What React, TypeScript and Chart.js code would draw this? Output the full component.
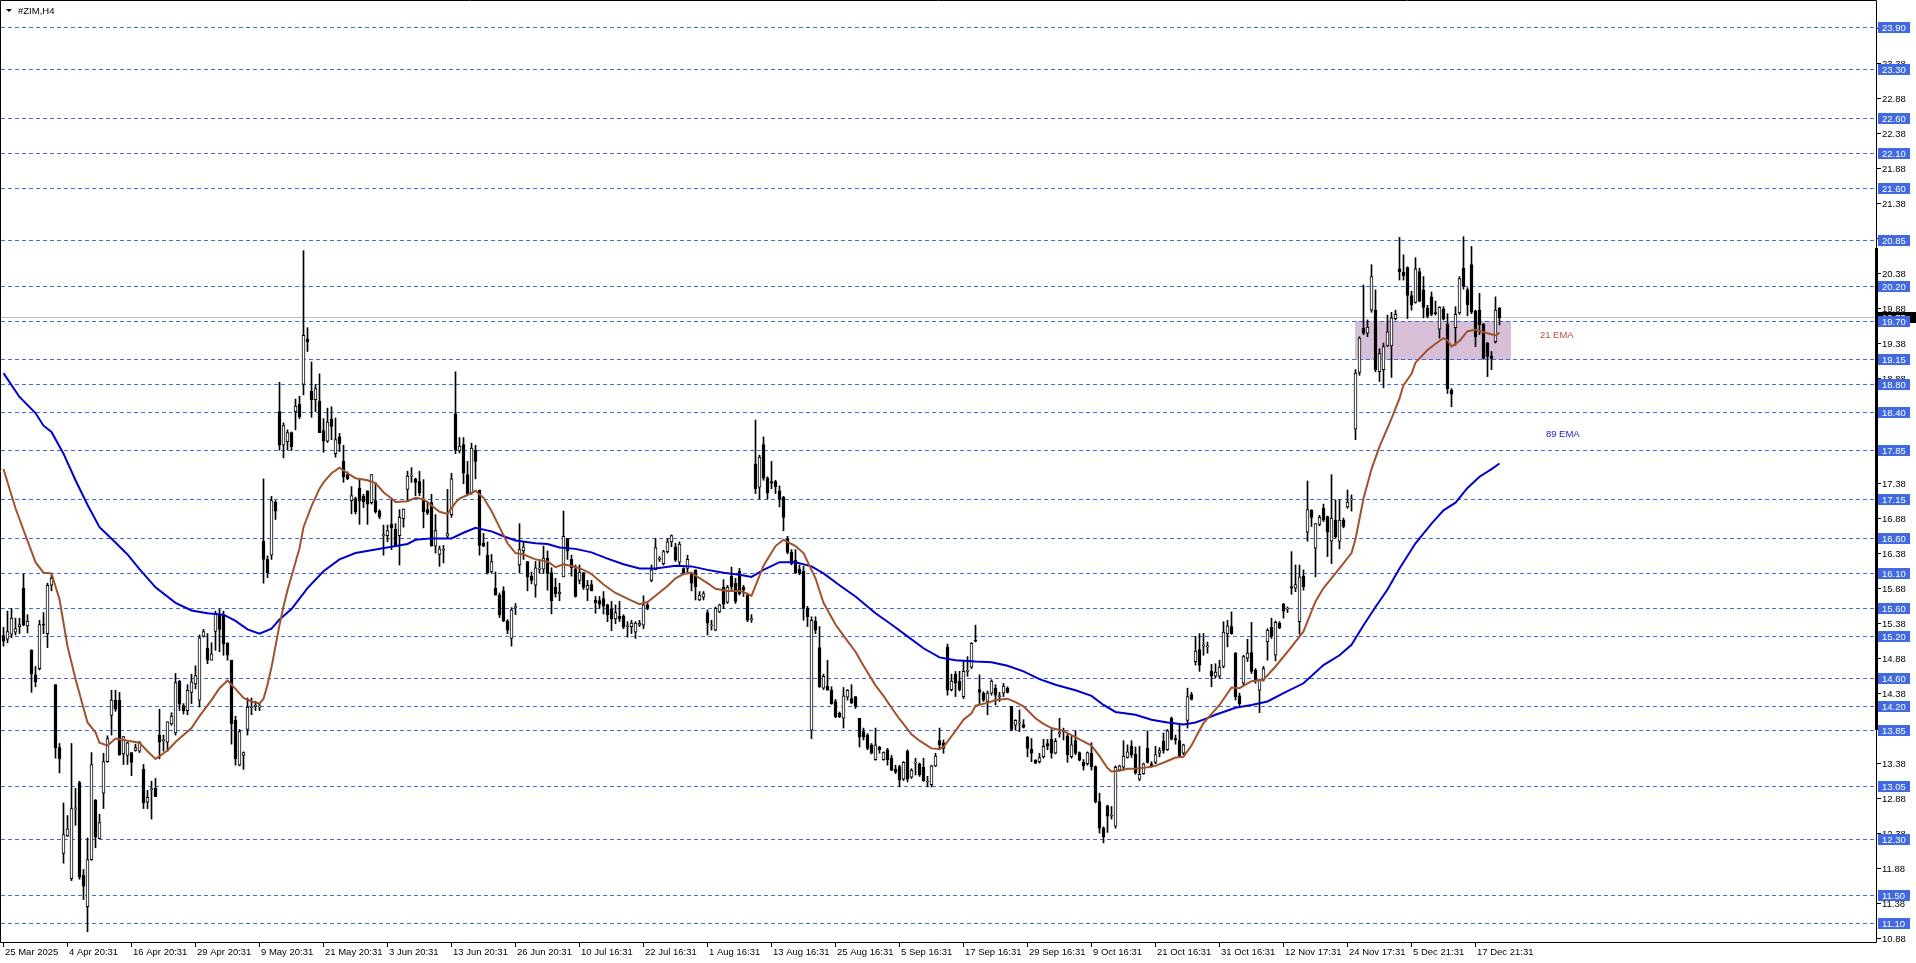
import React, { useEffect, useRef } from "react";
import { Chart, registerables } from "chart.js";

Chart.register(...registerables);

// ---------- DATA (H4 bars, index 0 = 25 Mar 2025) ----------
const opens = [
  15.20, 15.15, 15.22, 15.25, 15.33, 15.88, 15.34, 14.99, 14.64, 14.73,
  15.36, 15.23, 15.92, 14.50, 13.60, 12.09, 12.34, 11.73, 12.72, 13.10,
  11.78, 11.33, 12.00, 12.85, 12.30, 12.95, 13.40, 14.06, 14.28, 14.28,
  13.51, 13.49, 13.53, 13.56, 13.55, 13.29, 12.82, 13.00, 13.02, 13.78,
  13.70, 13.68, 13.94, 13.81, 14.55, 14.20, 14.13, 14.39, 14.51, 14.28,
  15.19, 15.02, 14.85, 15.26, 15.50, 15.50, 15.09, 14.85, 13.99, 13.35,
  13.49, 13.86, 14.17, 14.19, 14.18, 16.55, 16.29, 16.35, 17.11, 18.40,
  17.92, 17.97, 18.10, 18.40, 18.51, 18.79, 19.44, 18.69, 18.57, 18.55,
  18.13, 17.98, 18.29, 17.80, 18.04, 17.69, 17.50, 17.13, 17.16, 17.31,
  17.19, 17.27, 17.10, 17.13, 16.98, 16.63, 16.63, 16.79, 16.72, 16.63,
  16.87, 17.29, 17.48, 17.44, 17.40, 17.13, 17.00, 17.10, 16.48, 16.36,
  16.42, 16.62, 16.93, 18.37, 17.84, 17.93, 17.50, 17.24, 17.85, 17.28,
  16.52, 16.35, 16.11, 15.88, 15.78, 15.84, 15.41, 15.16, 15.60, 16.21,
  16.41, 16.26, 16.05, 15.92, 16.15, 16.15, 16.31, 16.10, 15.89, 15.80,
  16.04, 16.59, 16.29, 16.15, 15.99, 16.10, 15.86, 15.93, 15.71, 15.70,
  15.73, 15.64, 15.58, 15.44, 15.48, 15.48, 15.33, 15.33, 15.25, 15.35,
  15.35, 15.64, 15.99, 16.14, 16.29, 16.23, 16.40, 16.54, 16.47, 16.25,
  16.16, 16.16, 16.09, 16.14, 15.71, 15.75, 15.53, 15.34, 15.28, 15.54,
  15.89, 15.68, 16.05, 15.95, 16.12, 15.89, 15.78, 15.43, 17.65, 17.32,
  17.93, 17.45, 17.40, 17.40, 17.27, 17.18, 16.58, 16.39, 16.28, 16.15,
  16.12, 15.59, 13.85, 15.41, 15.03, 14.45, 14.48, 14.42, 14.26, 14.09,
  14.02, 14.32, 14.30, 14.33, 14.02, 13.83, 13.78, 13.64, 13.43, 13.61,
  13.43, 13.57, 13.45, 13.29, 13.33, 13.15, 13.55, 13.18, 13.38, 13.37,
  13.32, 13.11, 13.07, 13.34, 13.70, 13.67, 15.04, 14.43, 14.65, 14.55,
  14.33, 14.69, 14.75, 15.13, 14.43, 14.38, 14.26, 14.38, 14.45, 14.33,
  14.38, 14.45, 14.19, 13.92, 13.95, 13.93, 13.75, 13.58, 13.42, 13.40,
  13.47, 13.66, 13.72, 13.52, 13.80, 13.83, 13.77, 13.47, 13.70, 13.53,
  13.39, 13.37, 13.52, 13.33, 12.83, 12.45, 12.77, 12.62, 12.48, 13.28,
  13.32, 13.46, 13.62, 13.51, 13.15, 13.23, 13.59, 13.37, 13.39, 13.52,
  13.69, 13.57, 14.02, 13.73, 13.70, 13.52, 13.99, 14.36, 14.83, 15.00,
  15.05, 15.04, 14.69, 14.62, 14.62, 14.76, 15.23, 15.33, 14.95, 14.34,
  14.52, 14.88, 14.96, 14.71, 14.42, 14.57, 15.11, 15.32, 14.92, 15.38,
  15.65, 15.58, 15.90, 15.88, 15.40, 16.05, 16.68, 16.99, 16.45, 16.79,
  17.02, 16.90, 16.55, 16.85, 16.55, 16.85, 17.04, 17.14, 18.15, 18.96,
  19.59, 19.52, 19.85, 19.85, 18.97, 19.00, 19.34, 19.34, 19.73, 20.44,
  20.39, 20.46, 20.06, 19.96, 20.40, 20.14, 19.88, 20.04, 19.81, 19.58,
  19.87, 19.65, 18.71, 19.60, 19.81, 20.45, 20.14, 20.50, 19.84, 19.85,
  19.65, 19.38, 19.19, 19.40, 19.88,
];

const highs = [
  15.32, 15.55, 15.59, 15.45, 15.45, 16.08, 15.50, 15.00, 14.76, 15.42,
  15.53, 15.95, 16.09, 14.50, 13.66, 12.81, 12.63, 13.66, 13.02, 13.12,
  11.86, 12.31, 13.53, 12.86, 12.65, 13.52, 13.77, 14.42, 14.42, 14.39,
  13.76, 13.68, 13.53, 13.65, 13.69, 13.36, 12.99, 13.12, 13.16, 14.15,
  13.78, 13.97, 14.10, 14.66, 14.56, 14.23, 14.50, 14.65, 14.77, 15.21,
  15.29, 15.23, 15.10, 15.55, 15.58, 15.55, 15.10, 14.85, 14.05, 13.86,
  13.54, 14.31, 14.31, 14.26, 14.23, 17.44, 16.34, 17.19, 17.13, 18.82,
  18.24, 18.14, 18.11, 18.58, 18.62, 20.70, 19.60, 19.11, 18.79, 18.94,
  18.30, 18.45, 18.47, 18.31, 18.09, 17.92, 17.54, 17.33, 17.18, 17.43,
  17.22, 17.27, 17.50, 17.39, 17.00, 16.78, 16.78, 17.16, 16.80, 17.00,
  17.01, 17.55, 17.60, 17.45, 17.55, 17.43, 17.12, 17.22, 16.93, 16.48,
  16.49, 17.29, 17.52, 18.97, 18.03, 18.03, 17.69, 17.95, 17.92, 17.28,
  16.66, 16.54, 16.36, 16.11, 15.81, 15.90, 15.43, 15.60, 15.66, 16.80,
  16.54, 16.26, 16.11, 16.26, 16.26, 16.48, 16.41, 16.17, 16.02, 15.95,
  16.98, 16.59, 16.35, 16.21, 16.21, 16.10, 15.99, 15.99, 15.76, 15.76,
  15.83, 15.65, 15.69, 15.64, 15.69, 15.50, 15.40, 15.42, 15.40, 15.42,
  15.77, 15.66, 16.21, 16.59, 16.33, 16.42, 16.59, 16.64, 16.52, 16.54,
  16.17, 16.35, 16.10, 16.14, 15.83, 15.83, 15.57, 15.42, 15.61, 15.65,
  16.00, 15.92, 16.18, 16.02, 16.16, 15.92, 15.80, 15.50, 18.28, 17.78,
  18.04, 17.47, 17.69, 17.42, 17.34, 17.19, 16.62, 16.43, 16.43, 16.21,
  16.19, 15.62, 15.47, 15.47, 15.33, 14.65, 14.85, 14.47, 14.29, 14.11,
  14.46, 14.43, 14.50, 14.33, 14.02, 13.88, 13.80, 13.66, 13.88, 13.62,
  13.54, 13.59, 13.49, 13.35, 13.35, 13.40, 13.57, 13.30, 13.45, 13.38,
  13.45, 13.19, 13.35, 13.52, 13.88, 13.71, 15.08, 14.65, 14.69, 14.69,
  14.83, 14.90, 15.10, 15.35, 14.64, 14.40, 14.41, 14.57, 14.50, 14.39,
  14.52, 14.47, 14.19, 14.00, 14.14, 14.00, 13.76, 13.73, 13.43, 13.52,
  13.72, 13.72, 13.86, 13.73, 14.02, 13.88, 13.80, 13.76, 13.84, 13.54,
  13.43, 13.54, 13.67, 13.34, 12.95, 12.47, 12.78, 12.76, 13.34, 13.35,
  13.70, 13.64, 13.70, 13.61, 13.62, 13.38, 13.84, 13.40, 13.62, 13.60,
  13.81, 13.86, 14.04, 13.78, 13.92, 13.65, 14.45, 14.39, 15.19, 15.23,
  15.23, 15.11, 14.79, 14.80, 14.85, 15.40, 15.42, 15.54, 14.96, 14.38,
  14.92, 15.15, 15.39, 14.73, 14.58, 14.76, 15.30, 15.45, 15.41, 15.40,
  15.66, 15.61, 16.40, 16.21, 16.21, 16.14, 17.41, 17.00, 16.80, 16.92,
  17.08, 16.91, 17.50, 17.14, 17.14, 16.88, 17.28, 17.21, 19.00, 19.47,
  20.21, 19.71, 20.50, 20.14, 19.30, 19.38, 19.78, 19.82, 19.85, 20.89,
  20.64, 20.47, 20.12, 20.60, 20.45, 20.33, 19.92, 20.11, 19.98, 19.90,
  19.90, 19.80, 18.73, 19.90, 20.33, 20.90, 20.17, 20.76, 19.85, 20.09,
  19.66, 19.39, 19.26, 20.04, 19.89,
];

const lows = [
  15.05, 15.10, 15.17, 15.21, 15.23, 15.34, 15.24, 14.39, 14.47, 14.71,
  15.23, 15.03, 15.84, 13.45, 13.24, 11.95, 12.33, 11.70, 12.49, 11.72,
  11.43, 10.97, 11.99, 12.17, 12.30, 12.73, 13.39, 13.78, 14.12, 13.49,
  13.36, 13.36, 13.20, 13.55, 13.53, 12.73, 12.73, 12.58, 12.90, 13.44,
  13.55, 13.55, 13.92, 13.78, 14.13, 14.08, 14.07, 14.23, 14.44, 14.18,
  15.18, 14.80, 14.85, 14.99, 14.97, 14.92, 14.85, 13.65, 13.35, 13.34,
  13.29, 13.78, 14.07, 14.13, 14.13, 15.95, 16.03, 16.29, 16.86, 17.85,
  17.74, 17.85, 17.85, 18.14, 18.30, 18.64, 19.26, 18.32, 18.40, 18.10,
  17.82, 17.96, 18.00, 17.75, 17.83, 17.39, 17.43, 16.94, 16.94, 16.79,
  17.03, 16.79, 17.08, 16.95, 16.87, 16.35, 16.54, 16.43, 16.47, 16.21,
  16.75, 17.13, 17.39, 17.20, 17.20, 16.74, 16.93, 16.48, 16.38, 16.19,
  16.24, 16.59, 16.89, 17.80, 17.81, 17.37, 17.22, 17.22, 17.44, 16.35,
  16.47, 16.08, 16.10, 15.78, 15.46, 15.40, 15.23, 15.05, 15.50, 16.10,
  16.29, 15.84, 15.94, 15.75, 16.09, 16.09, 15.85, 15.51, 15.75, 15.70,
  16.04, 16.29, 16.05, 15.75, 15.94, 15.86, 15.70, 15.84, 15.52, 15.59,
  15.51, 15.40, 15.27, 15.37, 15.40, 15.30, 15.18, 15.23, 15.16, 15.33,
  15.30, 15.57, 15.97, 16.14, 16.26, 16.21, 16.38, 16.47, 16.26, 16.21,
  16.07, 16.09, 15.84, 15.71, 15.70, 15.71, 15.21, 15.28, 15.27, 15.53,
  15.59, 15.66, 15.85, 15.66, 15.78, 15.76, 15.40, 15.39, 17.23, 17.15,
  17.42, 17.15, 17.30, 17.23, 17.04, 16.70, 16.37, 16.21, 16.09, 16.07,
  15.42, 15.33, 13.73, 15.23, 14.46, 14.43, 14.42, 14.22, 14.03, 14.03,
  13.88, 14.28, 14.23, 14.16, 13.61, 13.71, 13.57, 13.51, 13.42, 13.52,
  13.42, 13.35, 13.27, 13.23, 13.04, 13.13, 13.11, 13.16, 13.21, 13.19,
  13.12, 13.04, 13.04, 13.33, 13.57, 13.52, 14.35, 14.41, 14.33, 14.41,
  14.30, 14.62, 14.73, 15.11, 14.23, 14.26, 14.07, 14.35, 14.21, 14.26,
  14.33, 14.38, 13.84, 13.85, 13.83, 13.88, 13.47, 13.40, 13.37, 13.38,
  13.45, 13.57, 13.45, 13.51, 13.75, 13.71, 13.39, 13.45, 13.50, 13.41,
  13.28, 13.35, 13.28, 12.81, 12.38, 12.24, 12.39, 12.58, 12.45, 13.27,
  13.30, 13.45, 13.46, 13.22, 13.13, 13.22, 13.38, 13.32, 13.37, 13.47,
  13.52, 13.56, 13.71, 13.65, 13.47, 13.50, 13.88, 14.28, 14.78, 14.69,
  14.92, 14.95, 14.47, 14.60, 14.59, 14.74, 15.04, 15.22, 14.28, 14.19,
  14.49, 14.83, 14.66, 14.52, 14.10, 14.55, 14.85, 15.16, 14.84, 15.30,
  15.45, 15.53, 15.79, 15.83, 15.22, 15.85, 16.55, 16.76, 16.04, 16.77,
  16.83, 16.33, 16.23, 16.59, 16.44, 16.74, 17.02, 16.98, 18.00, 18.92,
  19.50, 19.47, 19.82, 18.97, 18.83, 18.74, 19.33, 18.89, 19.71, 20.28,
  20.28, 19.73, 19.85, 19.95, 19.97, 19.74, 19.74, 19.77, 19.78, 19.45,
  19.71, 18.66, 18.47, 19.35, 19.79, 20.15, 19.77, 19.80, 19.33, 19.50,
  19.15, 18.90, 19.00, 19.38, 19.64,
];

const closes = [
  15.12, 15.26, 15.45, 15.30, 15.36, 15.35, 15.41, 14.65, 14.54, 15.36,
  15.35, 15.92, 16.02, 13.60, 13.44, 12.36, 12.44, 12.73, 12.74, 11.75,
  11.62, 12.00, 13.36, 12.32, 12.53, 13.40, 13.73, 14.28, 14.15, 13.50,
  13.76, 13.67, 13.39, 13.60, 13.68, 12.81, 12.89, 13.01, 12.90, 13.68,
  13.71, 13.97, 14.05, 14.53, 14.22, 14.13, 14.42, 14.54, 14.63, 15.17,
  15.26, 14.85, 14.94, 15.52, 15.29, 15.08, 14.92, 13.94, 13.44, 13.83,
  13.53, 14.18, 14.18, 14.20, 14.19, 16.29, 16.10, 17.13, 16.98, 17.92,
  18.20, 18.10, 17.90, 18.48, 18.33, 19.49, 19.40, 18.57, 18.73, 18.10,
  17.98, 18.25, 18.19, 18.00, 17.94, 17.47, 17.44, 17.20, 16.97, 17.12,
  17.11, 17.08, 17.50, 16.97, 16.90, 16.64, 16.70, 16.74, 16.48, 16.89,
  17.01, 17.48, 17.49, 17.39, 17.24, 16.97, 16.95, 16.48, 16.70, 16.44,
  16.43, 16.66, 17.44, 17.85, 17.91, 17.52, 17.22, 17.88, 17.69, 16.49,
  16.48, 16.10, 16.26, 15.78, 15.50, 15.41, 15.28, 15.57, 15.61, 16.43,
  16.47, 16.04, 15.99, 16.17, 16.15, 16.31, 16.09, 15.70, 15.80, 15.82,
  16.62, 16.41, 16.17, 15.76, 16.11, 15.89, 15.92, 15.84, 15.67, 15.65,
  15.62, 15.50, 15.44, 15.53, 15.44, 15.32, 15.34, 15.38, 15.38, 15.38,
  15.64, 15.59, 16.14, 16.46, 16.29, 16.40, 16.54, 16.63, 16.28, 16.51,
  16.08, 16.29, 15.95, 15.90, 15.78, 15.80, 15.38, 15.34, 15.59, 15.64,
  15.65, 15.89, 15.90, 15.69, 15.80, 15.85, 15.42, 15.43, 17.30, 17.75,
  17.45, 17.24, 17.38, 17.33, 17.15, 16.89, 16.39, 16.23, 16.10, 16.09,
  15.59, 15.47, 15.42, 15.28, 14.47, 14.62, 14.42, 14.23, 14.04, 14.04,
  14.34, 14.42, 14.24, 14.19, 13.75, 13.75, 13.59, 13.52, 13.64, 13.57,
  13.53, 13.43, 13.28, 13.25, 13.14, 13.39, 13.15, 13.28, 13.39, 13.21,
  13.13, 13.12, 13.34, 13.48, 13.64, 13.59, 14.42, 14.55, 14.52, 14.43,
  14.69, 14.70, 15.09, 15.12, 14.39, 14.28, 14.38, 14.55, 14.35, 14.33,
  14.48, 14.39, 13.86, 13.99, 13.95, 13.89, 13.59, 13.52, 13.38, 13.46,
  13.62, 13.62, 13.52, 13.69, 13.81, 13.83, 13.50, 13.64, 13.52, 13.42,
  13.34, 13.53, 13.33, 12.83, 12.45, 12.33, 12.62, 12.62, 13.32, 13.34,
  13.48, 13.54, 13.50, 13.24, 13.22, 13.37, 13.39, 13.34, 13.50, 13.56,
  13.56, 13.84, 13.72, 13.71, 13.48, 13.64, 14.33, 14.29, 14.98, 14.78,
  15.06, 15.05, 14.62, 14.68, 14.75, 15.25, 15.34, 15.23, 14.33, 14.23,
  14.90, 14.95, 14.69, 14.57, 14.57, 14.73, 15.28, 15.19, 15.39, 15.31,
  15.55, 15.58, 15.88, 15.93, 16.04, 15.90, 17.00, 16.89, 16.80, 16.89,
  16.85, 16.68, 16.88, 16.61, 16.85, 16.76, 17.11, 17.14, 18.95, 19.45,
  19.52, 19.61, 20.33, 19.00, 19.23, 19.33, 19.54, 19.74, 19.79, 20.40,
  20.34, 20.06, 19.93, 20.44, 19.98, 19.89, 19.76, 19.79, 19.80, 19.89,
  19.72, 18.73, 18.65, 19.79, 20.30, 20.19, 19.93, 19.82, 19.47, 19.64,
  19.16, 19.19, 19.16, 19.85, 19.74,
];

// 21 EMA (brown), read at bar indices
const ema21Bars = [
  0, 3, 5, 8, 10, 12, 14, 16, 18, 21, 23, 24, 26, 28, 31, 34, 36, 38, 41, 43,
  47, 49, 52, 54, 56, 58, 60, 62, 64, 65, 66, 67, 68, 69, 70, 71, 72, 73, 74, 75,
  77, 79, 80, 82, 84, 86, 88, 91, 93, 95, 97, 98, 101, 103, 105, 107, 109, 111, 113, 114,
  116, 118, 120, 122, 124, 126, 128, 130, 133, 136, 138, 140, 143, 145, 147, 150, 153, 157, 159, 161,
  163, 166, 168, 170, 172, 173, 176, 178, 181, 184, 186, 187, 188, 190, 193, 195, 198, 200, 203, 205,
  208, 210, 213, 215, 218, 220, 222, 224, 227, 229, 232, 234, 235, 238, 240, 242, 243, 246, 248, 251,
  253, 255, 258, 260, 262, 265, 267, 269, 272, 274, 276, 277, 279, 281, 283, 286, 288, 291, 293, 295,
  297, 299, 300, 304, 307, 309, 312, 315, 318, 322, 325, 328, 330, 333, 337, 338, 340, 342, 344, 347,
  349, 350, 352, 353, 356, 358, 360, 361, 362, 364, 366, 368, 371, 373, 374,
];
const ema21Values = [
  17.58, 17.02, 16.71, 16.25, 16.10, 16.09, 15.72, 15.05, 14.58, 13.96, 13.82, 13.67, 13.63, 13.73, 13.70, 13.67, 13.55, 13.44, 13.56, 13.68,
  13.88, 14.05, 14.28, 14.45, 14.56, 14.44, 14.31, 14.26, 14.23, 14.30, 14.50, 14.75, 15.05, 15.35, 15.62, 15.85, 16.05, 16.25, 16.45, 16.75,
  17.05, 17.30, 17.39, 17.52, 17.60, 17.52, 17.45, 17.42, 17.38, 17.25, 17.16, 17.11, 17.12, 17.17, 17.15, 17.06, 16.97, 16.94, 17.10, 17.16,
  17.21, 17.27, 17.17, 16.98, 16.75, 16.52, 16.38, 16.36, 16.29, 16.26, 16.18, 16.22, 16.18, 16.14, 16.08, 15.93, 15.81, 15.70, 15.65, 15.68,
  15.77, 15.91, 16.02, 16.08, 16.10, 16.06, 15.95, 15.87, 15.84, 15.84, 15.80, 15.77, 15.91, 16.20, 16.48, 16.57, 16.48, 16.38, 16.02, 15.67,
  15.36, 15.20, 14.97, 14.77, 14.49, 14.34, 14.17, 14.01, 13.79, 13.70, 13.59, 13.58, 13.61, 13.84, 14.00, 14.09, 14.20, 14.24, 14.28, 14.30,
  14.25, 14.19, 14.02, 13.94, 13.88, 13.84, 13.78, 13.72, 13.63, 13.48, 13.31, 13.26, 13.27, 13.30, 13.30, 13.32, 13.34, 13.41, 13.46, 13.47,
  13.63, 13.85, 13.95, 14.21, 14.46, 14.45, 14.55, 14.57, 14.76, 15.04, 15.26, 15.69, 15.88, 16.09, 16.38, 16.58, 17.16, 17.58, 17.90, 18.30,
  18.59, 18.78, 18.94, 19.10, 19.28, 19.37, 19.45, 19.42, 19.33, 19.41, 19.55, 19.57, 19.52, 19.49, 19.53,
];

// 89 EMA (blue), read at bar indices
const ema89Bars = [
  0, 4, 8, 10, 12, 15, 18, 21, 24, 28, 31, 34, 38, 43, 47, 51, 55, 58, 61, 64,
  67, 69, 72, 76, 80, 84, 88, 93, 97, 101, 103, 107, 112, 115, 118, 122, 125, 128, 133, 136,
  139, 143, 147, 151, 155, 159, 163, 168, 172, 176, 180, 184, 187, 190, 194, 198, 202, 205, 209, 213,
  218, 222, 226, 230, 234, 238, 243, 247, 251, 255, 259, 263, 268, 272, 275, 278, 283, 287, 291, 295,
  298, 300, 303, 308, 312, 316, 320, 325, 330, 334, 337, 340, 343, 346, 349, 353, 357, 360, 363, 366,
  369, 372, 374,
];
const ema89Values = [
  18.95, 18.61, 18.38, 18.20, 18.11, 17.80, 17.42, 17.07, 16.75, 16.53, 16.36, 16.15, 15.89, 15.67, 15.56, 15.52, 15.50, 15.41, 15.29, 15.23,
  15.30, 15.43, 15.58, 15.88, 16.12, 16.29, 16.38, 16.43, 16.47, 16.51, 16.57, 16.59, 16.59, 16.67, 16.74, 16.69, 16.62, 16.56, 16.52, 16.51,
  16.46, 16.44, 16.39, 16.30, 16.22, 16.16, 16.16, 16.20, 16.19, 16.14, 16.10, 16.07, 16.04, 16.14, 16.25, 16.25, 16.19, 16.09, 15.92, 15.76,
  15.52, 15.36, 15.19, 15.02, 14.89, 14.85, 14.83, 14.82, 14.77, 14.69, 14.58, 14.50, 14.42, 14.34, 14.21, 14.11, 14.07, 14.00, 13.96, 13.93,
  13.96, 14.00, 14.07, 14.17, 14.21, 14.26, 14.38, 14.52, 14.78, 14.92, 15.07, 15.35, 15.61, 15.86, 16.16, 16.52, 16.80, 16.99, 17.10, 17.31,
  17.47, 17.58, 17.66,
];

// time axis labels, one every 16 bars
const timeLabels = [
  "25 Mar 2025", "4 Apr 20:31", "16 Apr 20:31", "29 Apr 20:31", "9 May 20:31", "21 May 20:31",
  "3 Jun 20:31", "13 Jun 20:31", "26 Jun 20:31", "10 Jul 16:31", "22 Jul 16:31", "1 Aug 16:31",
  "13 Aug 16:31", "25 Aug 16:31", "5 Sep 16:31", "17 Sep 16:31", "29 Sep 16:31", "9 Oct 16:31",
  "21 Oct 16:31", "31 Oct 16:31", "12 Nov 17:31", "24 Nov 17:31", "5 Dec 21:31", "17 Dec 21:31",
];
const barsPerLabel = 16;

// horizontal level lines (blue dashed, with price tags)
const levelLines = [
  23.90, 23.30, 22.60, 22.10, 21.60, 20.85, 20.20, 19.70, 19.15, 18.80, 18.40, 17.85,
  17.15, 16.60, 16.10, 15.60, 15.20, 14.60, 14.20, 13.85, 13.05, 12.30, 11.50, 11.10,
];

// price scale ticks
const priceTicks = [
  23.88, 23.38, 22.88, 22.38, 21.88, 21.38, 20.88, 20.38, 19.88, 19.38, 18.88, 18.38, 17.88, 17.38,
  16.88, 16.38, 15.88, 15.38, 14.88, 14.38, 13.88, 13.38, 12.88, 12.38, 11.88, 11.38, 10.88,
];

const bidPrice = 19.75;

// price range marker on the price scale
const scaleMarkerRange = [20.74, 13.85];

// highlighted zone (rectangle)
const zoneBars = [337.9, 376.9];
const zonePrices = [19.70, 19.15];

// text labels on chart
const emaTexts = [
  { text: "21 EMA", bar: 384.1, price: 19.49, color: "#B5523B" },
  { text: "89 EMA", bar: 385.6, price: 18.08, color: "#2020D0" },
];

// ---------- CHART ----------
const FONT = '9.5px "Liberation Sans", Arial, sans-serif';

const mt4Plugin = {
  id: "mt4",
  beforeDatasetsDraw(chart: any) {
    const { ctx, chartArea, scales } = chart;
    const x = scales.x, y = scales.y;
    ctx.save();
    const zx1 = x.getPixelForValue(zoneBars[0]);
    const zx2 = x.getPixelForValue(zoneBars[1]);
    const zy1 = y.getPixelForValue(zonePrices[0]);
    const zy2 = y.getPixelForValue(zonePrices[1]);
    ctx.fillStyle = "#D8BFD8";
    ctx.fillRect(Math.round(zx1), Math.round(zy1), Math.round(zx2 - zx1), Math.round(zy2 - zy1));
    ctx.strokeStyle = "#4169E1";
    ctx.lineWidth = 1;
    ctx.setLineDash([4, 3]);
    for (const v of levelLines) {
      const py = Math.round(y.getPixelForValue(v)) + 0.5;
      ctx.beginPath();
      ctx.moveTo(chartArea.left, py);
      ctx.lineTo(chartArea.right, py);
      ctx.stroke();
    }
    ctx.setLineDash([]);
    const by = Math.round(y.getPixelForValue(bidPrice)) + 0.5;
    ctx.strokeStyle = "#C0C0C0";
    ctx.beginPath();
    ctx.moveTo(chartArea.left, by);
    ctx.lineTo(chartArea.right, by);
    ctx.stroke();
    ctx.restore();
  },
  afterDatasetsDraw(chart: any) {
    const { ctx, chartArea, scales } = chart;
    const x = scales.x, y = scales.y;
    const L = chartArea.left - 1, R = chartArea.right, T = chartArea.top, B = chartArea.bottom;
    ctx.save();
    ctx.strokeStyle = "#000";
    ctx.lineWidth = 1;
    ctx.beginPath();
    ctx.moveTo(L + 0.5, T + 0.5);
    ctx.lineTo(R + 0.5, T + 0.5);
    ctx.lineTo(R + 0.5, B + 0.5);
    ctx.lineTo(L + 0.5, B + 0.5);
    ctx.closePath();
    ctx.stroke();

    ctx.font = FONT;
    ctx.textBaseline = "middle";
    ctx.textAlign = "left";
    for (const v of priceTicks) {
      const py = Math.round(y.getPixelForValue(v));
      if (py < T || py > B + 8) continue;
      ctx.fillStyle = "#000";
      ctx.fillRect(R + 1, py, 4, 1);
      ctx.fillText(v.toFixed(2), R + 6, py + 1);
    }
    // bid tag
    const bpy = Math.round(y.getPixelForValue(bidPrice));
    ctx.fillStyle = "#000";
    ctx.fillRect(R + 1, bpy - 5, 40, 11);
    ctx.fillStyle = "#FFF";
    ctx.fillText(bidPrice.toFixed(2), R + 6, bpy + 1);
    // level tags
    for (const v of levelLines) {
      const py = Math.round(y.getPixelForValue(v));
      ctx.fillStyle = "#4169E1";
      ctx.fillRect(R + 2, py - 5, 32, 11);
      ctx.fillStyle = "#FFF";
      ctx.fillText(v.toFixed(2), R + 6, py + 1);
    }
    // thick marker on the price scale
    const m1 = Math.round(y.getPixelForValue(scaleMarkerRange[0]));
    const m2 = Math.round(y.getPixelForValue(scaleMarkerRange[1]));
    ctx.fillStyle = "#000";
    ctx.fillRect(R - 1, m1, 3, m2 - m1);
    // time axis
    ctx.fillStyle = "#000";
    timeLabels.forEach((lab, k) => {
      const px = Math.floor(x.getPixelForValue(k * barsPerLabel));
      ctx.fillRect(px, B + 1, 1, 4);
      ctx.fillText(lab, px + 2, B + 10);
    });
    // title
    ctx.beginPath();
    ctx.moveTo(6, 9);
    ctx.lineTo(12, 9);
    ctx.lineTo(9, 12);
    ctx.closePath();
    ctx.fill();
    ctx.fillText("#ZIM,H4", 18, 11);
    for (const t of emaTexts) {
      ctx.fillStyle = t.color;
      ctx.fillText(t.text, x.getPixelForValue(t.bar), y.getPixelForValue(t.price));
    }
    ctx.restore();
  },
};

export default function App() {
  const ref = useRef<HTMLCanvasElement | null>(null);
  useEffect(() => {
    const canvas = ref.current;
    if (!canvas) return;
    const n = closes.length;
    const idx = Array.from({ length: n }, (_, i) => i);
    const wicks = idx.map((i) => ({ x: i, y: [lows[i], highs[i]] }));
    const bodies = idx.map((i) => ({ x: i, y: [opens[i], closes[i]] }));
    const bodyFill = idx.map((i) => (closes[i] >= opens[i] ? "#FFFFFF" : "#000000"));
    const ema21 = ema21Bars.map((b, k) => ({ x: b, y: ema21Values[k] }));
    const ema89 = ema89Bars.map((b, k) => ({ x: b, y: ema89Values[k] }));

    const chart = new Chart(canvas, {
      type: "bar",
      data: {
        datasets: [
          {
            type: "line",
            data: ema21,
            borderColor: "#A0522D",
            borderWidth: 2,
            pointRadius: 0,
            tension: 0,
            order: 0,
          } as any,
          {
            type: "line",
            data: ema89,
            borderColor: "#0000CD",
            borderWidth: 2,
            pointRadius: 0,
            tension: 0,
            order: 0,
          } as any,
          {
            type: "bar",
            data: bodies,
            backgroundColor: bodyFill,
            borderColor: "#000000",
            borderWidth: 1,
            borderSkipped: false,
            barThickness: 3,
            minBarLength: 1,
            grouped: false,
            order: 1,
          } as any,
          {
            type: "bar",
            data: wicks,
            backgroundColor: "#000000",
            borderWidth: 0,
            barThickness: 1,
            grouped: false,
            order: 2,
          } as any,
        ],
      },
      options: {
        responsive: false,
        animation: false,
        devicePixelRatio: 1,
        events: [],
        layout: { padding: { left: 1, right: 40, top: 0, bottom: 21 } },
        scales: {
          x: { type: "linear", min: -0.625, max: 468.125, display: false, offset: false },
          y: { type: "linear", min: 10.824, max: 24.281, display: false },
        },
        plugins: { legend: { display: false }, tooltip: { enabled: false } },
      } as any,
      plugins: [mt4Plugin],
    });
    return () => chart.destroy();
  }, []);

  return (
    <div style={{ position: "absolute", left: 0, top: 0, width: 1916, height: 963, background: "#fff" }}>
      <canvas ref={ref} width={1916} height={963} style={{ display: "block" }} />
    </div>
  );
}
